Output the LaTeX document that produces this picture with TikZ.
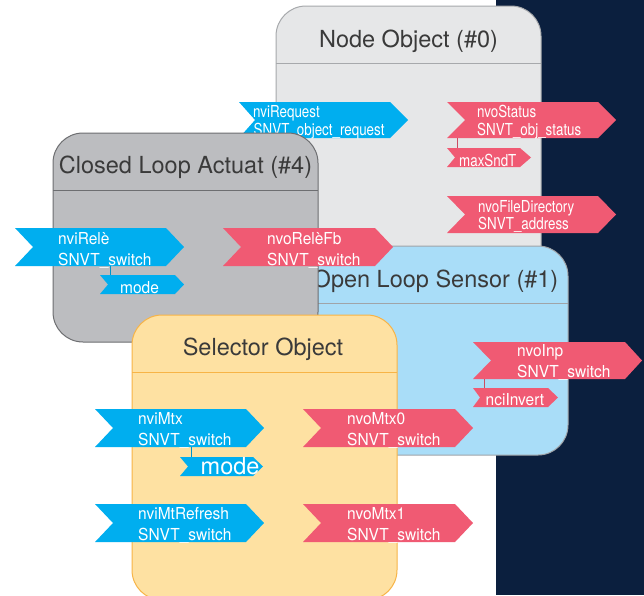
\documentclass[tikz,border=0pt]{standalone}
\usepackage{fontspec}
\setmainfont{TeX Gyre Heros}
\newfontfamily\sigN{TeX Gyre Heros}[FakeStretch=0.81]
\newfontfamily\sigA{TeX Gyre Heros}[FakeStretch=0.94]
\definecolor{navy}{HTML}{0B1F3E}
\definecolor{sigcyan}{HTML}{00AEEF}
\definecolor{sigpink}{HTML}{F05A73}
\definecolor{nodefill}{HTML}{E6E7E8}
\definecolor{nodeborder}{HTML}{A7A9AC}
\definecolor{clfill}{HTML}{BCBDC0}
\definecolor{clborder}{HTML}{6D6E71}
\definecolor{olfill}{HTML}{A9DDF8}
\definecolor{olborder}{HTML}{A0A4A8}
\definecolor{selfill}{HTML}{FEE1A2}
\definecolor{selborder}{HTML}{F7B447}
\definecolor{titlegray}{HTML}{3A3A3A}
\tikzset{
  sigtxtN/.style={anchor=base west, inner sep=0pt, text=white, font=\sigN\fontsize{16.5}{18}\selectfont},
  sigtxt/.style={anchor=base west, inner sep=0pt, text=white, font=\sigA\fontsize{16.5}{18}\selectfont},
  bigtxt/.style={anchor=base west, inner sep=0pt, text=white, font=\fontsize{23.5}{28}\selectfont},
  boxtitle/.style={anchor=base, inner sep=0pt, text=titlegray, font=\fontsize{23.5}{28}\selectfont},
  conn/.style={line width=1pt}
}
% fill, border, x1, y1, x2, y2, header y
\newcommand\objbox[7]{%
  \filldraw[fill=#1, draw=#2, line width=1pt, rounded corners=30pt] (#3,#4) rectangle (#5,#6);
  \draw[#2, line width=1pt] (#3,#7) -- (#5,#7);}
% name, colour, x left, x notch, top, bottom, x base, x tip
\newcommand\sigshape[8]{%
  \path[fill=#2] (#3,#5) -- (#7,#5) -- (#8,{(#5+#6)/2}) -- (#7,#6) -- (#3,#6) -- (#4,{(#5+#6)/2}) -- cycle;
  \coordinate (#1) at ({(#3+#8)/2},{(#5+#6)/2});}
\begin{document}
\begin{tikzpicture}[x=1pt,y=-1pt]
\useasboundingbox (0,0) rectangle (644,595);
\clip (0,0) rectangle (644,595);
\fill[white] (0,0) rectangle (644,595);
\fill[navy] (496,0) rectangle (644,595);

% ---------- Node Object ----------
\objbox{nodefill}{nodeborder}{276}{6}{541}{300}{63}
\node[boxtitle] (nodeT) at (408.5,47) {Node Object (\#0)};
\sigshape{nviRequest}{sigcyan}{239}{255}{102}{138}{390}{408}
\node[sigtxtN] (nviRequest1) at (253,117) {nviRequest};
\node[sigtxtN] (nviRequest2) at (253.5,135) {SNVT\_object\_request};
\sigshape{nvoStatus}{sigpink}{447}{465}{102}{138}{598}{616}
\node[sigtxtN] (nvoStatus1) at (477,117) {nvoStatus};
\node[sigtxtN] (nvoStatus2) at (477,135) {SNVT\_obj\_status};
\sigshape{maxSndT}{sigpink}{447}{455}{148}{167}{520}{531}
\node[sigtxtN] (maxSndT1) at (459,166) {maxSndT};
\coordinate (nvoStatusB) at (457,138);
\coordinate (maxSndTT) at (457,148);
\draw[conn, sigpink!85!black] (nvoStatusB) -- (maxSndTT);
\sigshape{nvoFileDirectory}{sigpink}{447}{465}{196}{233}{598}{616}
\node[sigtxtN] (nvoFileDirectory1) at (478,212) {nvoFileDirectory};
\node[sigtxtN] (nvoFileDirectory2) at (478,229) {SNVT\_address};

% ---------- Open Loop Sensor ----------
\objbox{olfill}{olborder}{303}{246}{568}{455}{303}
\node[boxtitle] (olT) at (435.5,287) {Open Loop Sensor (\#1)};
\sigshape{nvoInp}{sigpink}{473}{491}{342}{379}{625}{642}
\node[sigtxt] (nvoInp1) at (517,356) {nvoInp};
\node[sigtxt] (nvoInp2) at (517,377) {SNVT\_switch};
\sigshape{nciInvert}{sigpink}{473}{480}{388}{407}{548}{558}
\node[sigtxt] (nciInvert1) at (485.5,405) {nciInvert};
\coordinate (nvoInpB) at (484,379);
\coordinate (nciInvertT) at (484,388);
\draw[conn, sigpink!85!black] (nvoInpB) -- (nciInvertT);

% ---------- Closed Loop Actuat ----------
\objbox{clfill}{clborder}{53}{133}{318}{342}{190}
\node[boxtitle] (clT) at (185.5,173) {Closed Loop Actuat (\#4)};
\sigshape{nviRele}{sigcyan}{15}{33}{228}{266}{166}{184}
\node[sigtxt] (nviRele1) at (58,244) {nviRelè};
\node[sigtxt] (nviRele2) at (58,265) {SNVT\_switch};
\sigshape{modeA}{sigcyan}{100}{108}{275}{294}{175}{184}
\node[sigtxt] (modeA1) at (120,293) {mode};
\coordinate (nviReleB) at (110,266);
\coordinate (modeAT) at (110,275);
\draw[conn, sigcyan!85!black] (nviReleB) -- (modeAT);
\sigshape{nvoReleFb}{sigpink}{223}{241}{228}{266}{375}{393}
\node[sigtxt] (nvoReleFb1) at (267,244) {nvoRelèFb};
\node[sigtxt] (nvoReleFb2) at (267,265) {SNVT\_switch};

% ---------- Selector Object ----------
\objbox{selfill}{selborder}{132}{315}{397}{600}{372}
\node[boxtitle] (selT) at (263,355) {Selector Object};
\sigshape{nviMtx}{sigcyan}{95}{113}{409}{447}{246}{264}
\node[sigtxt] (nviMtx1) at (138,424) {nviMtx};
\node[sigtxt] (nviMtx2) at (138,445) {SNVT\_switch};
\sigshape{modeB}{sigcyan}{180}{188}{457}{476}{253}{263}
\node[bigtxt] (modeB1) at (200.5,474.5) {mode};
\coordinate (nviMtxB) at (191,447);
\coordinate (modeBT) at (191,457);
\draw[conn, sigcyan!85!black] (nviMtxB) -- (modeBT);
\sigshape{nvoMtx0}{sigpink}{303}{321}{409}{447}{455}{473}
\node[sigtxt] (nvoMtx01) at (347,424) {nvoMtx0};
\node[sigtxt] (nvoMtx02) at (347,445) {SNVT\_switch};
\sigshape{nviMtRefresh}{sigcyan}{95}{113}{504}{542}{246}{264}
\node[sigtxt] (nviMtRefresh1) at (138,519) {nviMtRefresh};
\node[sigtxt] (nviMtRefresh2) at (138,540) {SNVT\_switch};
\sigshape{nvoMtx1}{sigpink}{303}{321}{504}{542}{455}{473}
\node[sigtxt] (nvoMtx11) at (347,519) {nvoMtx1};
\node[sigtxt] (nvoMtx12) at (347,540) {SNVT\_switch};
\end{tikzpicture}
\end{document}
